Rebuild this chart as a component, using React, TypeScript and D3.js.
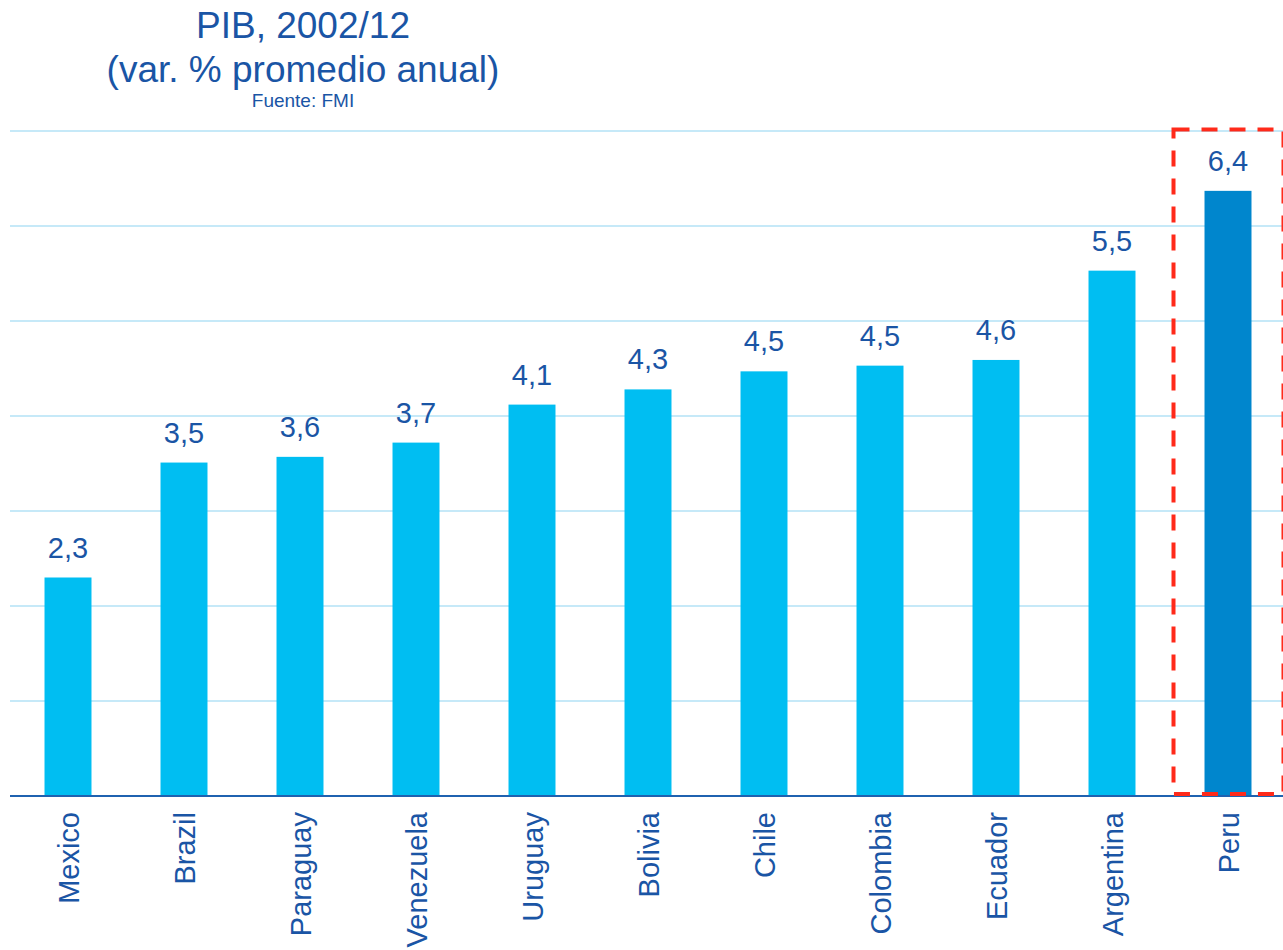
import React from "react";
import * as d3 from "d3";

const categories = ["Mexico", "Brazil", "Paraguay", "Venezuela", "Uruguay", "Bolivia", "Chile", "Colombia", "Ecuador", "Argentina", "Peru"];
const values = [2.3, 3.51, 3.57, 3.72, 4.12, 4.28, 4.47, 4.53, 4.59, 5.53, 6.37];
const gridTicks = [1, 2, 3, 4, 5, 6, 7];
const highlight = "Peru";

const W = 1283;
const H = 950;

export default function App() {
  const x = d3.scaleBand<string>().domain(categories).range([10, 1286]).paddingInner(0.595).paddingOuter(0.2975);
  const y = d3.scaleLinear().domain([0, 7]).range([796, 131]);
  const fmt = (v: number) => d3.format(".1f")(v).replace(".", ",");
  const textColor = "#1A55A5";
  const font = "Arial, 'Liberation Sans', sans-serif";
  const hx = x(highlight)!;
  const hw = x.bandwidth();
  const boxLeft = hx - 31;
  const boxRight = hx + hw + 32;
  return (
    <svg width={W} height={H} style={{ position: "absolute", left: 0, top: 0 }} fontFamily={font}>
      <rect width={W} height={H} fill="#fff" />
      <text x={303} y={38} textAnchor="middle" fontSize={37} fill={textColor}>PIB, 2002/12</text>
      <text x={303} y={82} textAnchor="middle" fontSize={37} fill={textColor}>(var. % promedio anual)</text>
      <text x={303} y={107} textAnchor="middle" fontSize={19} fill={textColor}>Fuente: FMI</text>
      {gridTicks.map((t) => (
        <line key={t} x1={10} x2={W} y1={y(t)} y2={y(t)} stroke="#C6E9F8" strokeWidth={2} />
      ))}
      {categories.map((c, i) => (
        <g key={c}>
          <rect x={x(c)} y={y(values[i])} width={x.bandwidth()} height={y(0) - y(values[i])} fill={c === highlight ? "#0086CD" : "#00BEF2"} />
          <text x={x(c)! + x.bandwidth() / 2} y={y(values[i]) - 20} textAnchor="middle" fontSize={29} fill={textColor}>{fmt(values[i])}</text>
          <text transform={`translate(${x(c)! + x.bandwidth() / 2 + 0.5},812) rotate(-90)`} textAnchor="end" dominantBaseline="central" fontSize={29} fill={textColor}>{c}</text>
        </g>
      ))}
      <line x1={10} x2={W} y1={y(0)} y2={y(0)} stroke="#1F62B0" strokeWidth={2} />
      <rect x={boxLeft} y={129.5} width={boxRight - boxLeft} height={794 - 129.5} fill="none" stroke="#FF2A1A" strokeWidth={4} strokeDasharray="16,12" />
    </svg>
  );
}
